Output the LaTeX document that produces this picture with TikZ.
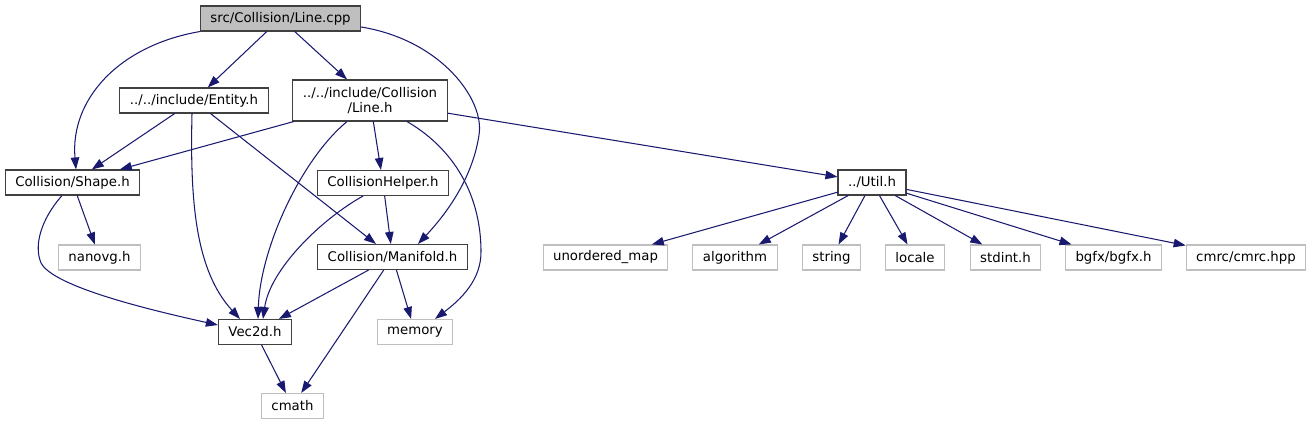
\documentclass[tikz,border=0pt]{standalone}
\usepackage{fontspec}
\setmainfont{DejaVu Sans}
\usepackage{tikz}
\usetikzlibrary{arrows.meta,positioning}
\definecolor{edgeblue}{HTML}{191970}
\definecolor{sysgray}{HTML}{BFBFBF}
\definecolor{boxline}{HTML}{404040}

\begin{document}
\begin{tikzpicture}[
    x=1pt, y=1pt,
    node distance=75pt,
    >={Triangle[length=12pt,width=8.5pt]},
    font=\fontsize{13.3}{15.5}\selectfont,
    hdr/.style={
		rectangle,
		draw=boxline,
		line width=1.1pt,
		fill=white,
		text centered,
		inner xsep=10pt,
		inner ysep=2pt,
		minimum height=25pt
	},
	sys/.style={
		hdr,
		draw=sysgray
	},
	src/.style={
		hdr,
		fill=sysgray
	},
	incl/.style={
		draw=edgeblue,
		line width=1.05pt
	}
  ]
  \useasboundingbox (0,0) rectangle (1311,-425);
    % We start by placing the blocks

  \node [src] (linecpp) at (280.5,-18.5) {src/Collision/Line.cpp};

  \node [hdr, below of=linecpp, node distance=82pt, xshift=-86.5pt] (entityh) {../../include/Entity.h};

  \node [hdr, below of=linecpp, node distance=82pt, xshift=89.5pt, minimum height=41pt, align=center] (lineh)
 {../../include/Collision\\/Line.h};

  \node [hdr, below of=entityh, node distance=82pt, xshift=-121.5pt] (shapeh) {Collision/Shape.h};
  \node [hdr, below of=lineh, node distance=82.5pt, xshift=13pt] (helperh) {CollisionHelper.h};
  \node [hdr, below of=lineh, node distance=82pt, xshift=502pt] (utilh) {../Util.h};

  \node [sys, below of=shapeh, xshift=27pt] (nanovgh) {nanovg.h};
  \node [hdr, below of=helperh, node distance=74pt, xshift=9.5pt] (manifoldh) {Collision/Manifold.h};

  \node [sys, below of=utilh, xshift=-266.5pt] (umap) {unordered\_map};
  \node [sys, below of=utilh, xshift=-137pt] (algorithm) {algorithm};
  \node [sys, below of=utilh, xshift=-40.5pt] (string) {string};
  \node [sys, below of=utilh, xshift=43pt] (locale) {locale};
  \node [sys, below of=utilh, xshift=133.5pt] (stdint) {stdint.h};
  \node [sys, below of=utilh, xshift=241.5pt] (bgfx) {bgfx/bgfx.h};
  \node [sys, below of=utilh, xshift=374pt] (cmrc) {cmrc/cmrc.hpp};

  \node [hdr, below of=manifoldh, xshift=-137.5pt] (vec2d) {Vec2d.h};
  \node [sys, below of=manifoldh, xshift=22.5pt] (memory) {memory};
  \node [sys, below of=vec2d, node distance=74pt, xshift=37.5pt] (cmath) {cmath};

  % bends of the long curves
  \coordinate (bendcm) at (479,-135);
  \coordinate (bendlm) at (481,-250);
  \coordinate (bendsv) at (40,-260);

 \draw [incl,->] (linecpp.south west) .. controls +(-81,-14) and +(-6,70) .. ([xshift=3.5pt]shapeh.north);
 \draw [incl,->] (linecpp) -- (entityh);
 \draw [incl,->] (linecpp) -- (lineh);
 \draw [incl,->] ([yshift=-8.5pt]linecpp.east) .. controls +(80,-13) and +(6,35) .. (bendcm)
   .. controls +(-6,-40) and +(32,34) .. ([xshift=25.5pt]manifoldh.north);

 \draw [incl,->] (entityh) -- (shapeh);
 \draw [incl,->] ([xshift=-2pt]entityh.south) .. controls +(-2,-86) and +(-45,49) .. ([xshift=-15pt]vec2d.north);
 \draw [incl,->] (entityh) -- (manifoldh);

 \draw [incl,->] (lineh) -- (shapeh);
 \draw [incl,->] ([xshift=-23pt]lineh.south) .. controls +(-47,-39) and +(2,69) .. ([xshift=3pt]vec2d.north);
 \draw [incl,->] (lineh) -- (helperh);
 \draw [incl,->] ([xshift=37pt]lineh.south) .. controls +(33,-19) and +(-1,70) .. (bendlm)
   .. controls +(1,-30) and +(25,19) .. ([xshift=20pt]memory.north);
 \draw [incl,->] (lineh) -- (utilh);

 \draw [incl,->] (shapeh) -- (nanovgh);
 \draw [incl,->] ([xshift=-10.5pt]shapeh.south) .. controls +(-22,-25) and +(-5,15) .. (bendsv)
   .. controls +(5,-25) and +(-68,15) .. ([yshift=7pt]vec2d.west);

 \draw [incl,->] ([xshift=-20pt]helperh.south) .. controls +(-43,-24) and +(7,49) .. ([xshift=8pt]vec2d.north);
 \draw [incl,->] (helperh) -- (manifoldh);

 \draw [incl,->] (manifoldh) -- (vec2d);
 \draw [incl,->] (manifoldh) -- (cmath);
 \draw [incl,->] (manifoldh) -- (memory);
 \draw [incl,->] (vec2d) -- (cmath);

 \foreach \dep in {umap,algorithm,string,locale,stdint,bgfx,cmrc}
   \draw [incl,->] (utilh) -- (\dep);

\end{tikzpicture}
\end{document}
